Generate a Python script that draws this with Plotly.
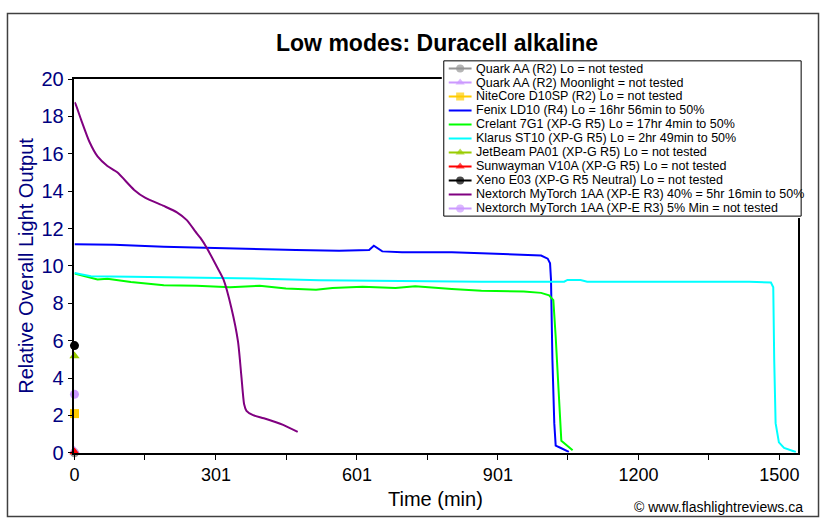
import plotly.graph_objects as go

# ---------------- data ----------------
purple_t = [0, 2, 14, 32, 49, 70, 91, 127, 151, 190, 218, 239, 257, 268, 281, 303, 317, 334,
            348, 355, 361, 366, 380, 403, 444, 475]
purple_v = [18.75, 18.68, 17.83, 16.63, 15.86, 15.35, 15.01, 14.07, 13.64, 13.21, 12.87, 12.45,
            11.85, 11.50, 10.99, 9.96, 9.28, 7.74, 5.95, 4.15, 2.6, 2.25, 2.02, 1.85, 1.5, 1.12]

fenix_t = [0, 84, 190, 281, 387, 471, 563, 627, 637, 648, 655, 697, 803, 866, 936, 993, 1007,
           1012, 1014, 1017, 1021, 1024, 1035, 1052]
fenix_v = [11.16, 11.13, 11.03, 10.96, 10.89, 10.85, 10.82, 10.85, 11.08, 10.91, 10.78, 10.73,
           10.73, 10.68, 10.62, 10.56, 10.39, 10.14, 9.28, 5.01, 1.59, 0.39, 0.26, 0.05]

crelant_t = [0, 21, 49, 70, 120, 190, 260, 331, 394, 450, 514, 549, 613, 683, 725, 803, 866, 956,
             993, 1010, 1019, 1024, 1031, 1036, 1060]
crelant_v = [9.6, 9.45, 9.28, 9.32, 9.14, 8.97, 8.94, 8.86, 8.94, 8.80, 8.73, 8.82, 8.89, 8.82,
             8.91, 8.77, 8.68, 8.63, 8.56, 8.43, 8.17, 6.21, 3.30, 0.65, 0.14]

klarus_t = [0, 35, 120, 260, 401, 521, 683, 803, 866, 1042, 1049, 1077, 1091, 1119, 1281, 1436,
            1482, 1487, 1489, 1492, 1499, 1510, 1535]
klarus_v = [9.62, 9.45, 9.42, 9.37, 9.32, 9.23, 9.20, 9.16, 9.16, 9.16, 9.25, 9.25, 9.16, 9.15,
            9.16, 9.16, 9.11, 8.86, 5.01, 1.59, 0.56, 0.26, 0.05]

# single-point "not tested" series (time, value)
quark_lo = ([0], [0.0])
quark_moon = ([0], [0.12])
nitecore = ([0], [2.1])
jetbeam = ([0], [5.18])
sunwayman = ([0], [0.05])
xeno = ([0], [5.74])
nextorch_min = ([0], [3.13])

x_tick_vals = [0, 150, 301, 451, 601, 751, 901, 1050, 1200, 1350, 1500]
x_tick_text = ["0", "", "301", "", "601", "", "901", "", "1200", "", "1500"]
y_tick_vals = [0, 2, 4, 6, 8, 10, 12, 14, 16, 18, 20]

names = [
    "Quark AA (R2) Lo = not tested",
    "Quark AA (R2) Moonlight = not tested",
    "NiteCore D10SP (R2) Lo = not tested",
    "Fenix LD10 (R4) Lo = 16hr 56min to 50%",
    "Crelant 7G1 (XP-G R5) Lo = 17hr 4min to 50%",
    "Klarus ST10 (XP-G R5) Lo = 2hr 49min to 50%",
    "JetBeam PA01 (XP-G R5) Lo = not tested",
    "Sunwayman V10A (XP-G R5) Lo = not tested",
    "Xeno E03 (XP-G R5 Neutral) Lo = not tested",
    "Nextorch MyTorch 1AA (XP-E R3) 40% = 5hr 16min to 50%",
    "Nextorch MyTorch 1AA (XP-E R3) 5% Min = not tested",
]

# ---------------- styles ----------------
W, H = 822, 530
PL, PR, PT, PB = 70, 799, 71, 461          # plot area in pixels
X_MAX = 1540
FONT = "Arial, Liberation Sans, sans-serif"
NAVY = "#000080"

series = [
    # (name, data, kind, color, symbol)
    (names[0], quark_lo, "m", "#969696", "circle"),
    (names[1], quark_moon, "m", "#CC99FF", "triangle-up"),
    (names[2], nitecore, "m", "#FFCC00", "square"),
    (names[3], (fenix_t, fenix_v), "l", "#0000FF", None),
    (names[4], (crelant_t, crelant_v), "l", "#00FF00", None),
    (names[5], (klarus_t, klarus_v), "l", "#00FFFF", None),
    (names[6], jetbeam, "m", "#99CC00", "triangle-up"),
    (names[7], sunwayman, "m", "#FF0000", "triangle-up"),
    (names[8], xeno, "m", "#000000", "circle"),
    (names[9], (purple_t, purple_v), "s", "#800080", None),
    (names[10], nextorch_min, "m", "#CC99FF", "circle"),
]

fig = go.Figure()

for name, (t, v), kind, color, sym in series:
    if kind in ("l", "s"):
        fig.add_trace(go.Scatter(x=t, y=v, mode="lines", name=name, showlegend=False,
                                 line=dict(color=color, width=2,
                                           shape="spline" if kind == "s" else "linear",
                                           smoothing=0.6)))
for name, (t, v), kind, color, sym in series:
    if kind == "m":
        fig.add_trace(go.Scatter(x=t, y=v, mode="markers", name=name, showlegend=False,
                                 cliponaxis=False,
                                 marker=dict(color=color, symbol=sym, size=9,
                                             line=dict(width=0))))

# ---------------- manual legend (compact rows like the original) ----------------
LG_L, LG_R, LG_T, LG_B = 442, 802, 52, 214
row_y0, row_dy = 60, 14.6
sym_x0, sym_x1, txt_x = 447, 470, 472
annotations = []
for i, (name, data, kind, color, sym) in enumerate(series):
    yc = row_y0 + row_dy * i
    if kind in ("l", "s"):
        fig.add_trace(go.Scatter(x=[sym_x0, sym_x1], y=[yc, yc], mode="lines",
                                 xaxis="x2", yaxis="y2", showlegend=False, hoverinfo="skip",
                                 line=dict(color=color, width=2)))
    else:
        fig.add_trace(go.Scatter(x=[sym_x0, (sym_x0 + sym_x1) / 2, sym_x1], y=[yc, yc, yc],
                                 mode="lines+markers", xaxis="x2", yaxis="y2",
                                 showlegend=False, hoverinfo="skip",
                                 line=dict(color=color, width=2),
                                 marker=dict(color=color, symbol=sym, size=[0, 8, 0],
                                             line=dict(width=0))))
    annotations.append(dict(x=txt_x, y=yc, xref="x2", yref="y2", text=name, showarrow=False,
                            xanchor="left", yanchor="middle",
                            font=dict(family=FONT, size=12.5, color="black")))

shapes = [
    dict(type="rect", xref="paper", yref="paper", x0=2.5 / W, x1=(W - 2.5) / W,
         y0=2.5 / H, y1=(H - 2.5) / H, line=dict(color="#404040", width=1.5), layer="below"),
    dict(type="rect", xref="x2", yref="y2", x0=LG_L, x1=LG_R, y0=LG_T, y1=LG_B,
         fillcolor="white", line=dict(color="black", width=1), layer="below"),
]

annotations += [
    dict(x=435 / W, y=(H - 33) / H, xref="paper", yref="paper", showarrow=False,
         text="<b>Low modes: Duracell alkaline</b>", xanchor="center", yanchor="middle",
         font=dict(family=FONT, size=23, color="black")),
    dict(x=21 / W, y=(H - (PT + PB) / 2) / H, xref="paper", yref="paper", showarrow=False,
         text="Relative Overall Light Output", textangle=-90, xanchor="center",
         yanchor="middle", font=dict(family=FONT, size=20, color=NAVY)),
    dict(x=434 / W, y=(H - 509) / H, xref="paper", yref="paper", showarrow=False,
         text="Time (min)", xanchor="center", yanchor="middle",
         font=dict(family=FONT, size=20, color="black")),
    dict(x=806 / W, y=(H - 517) / H, xref="paper", yref="paper", showarrow=False,
         text="© www.flashlightreviews.ca", xanchor="right", yanchor="middle",
         font=dict(family=FONT, size=14, color="black")),
]

fig.update_layout(
    width=W, height=H,
    margin=dict(l=0, r=0, t=0, b=0, pad=0),
    paper_bgcolor="white", plot_bgcolor="white",
    showlegend=False,
    font=dict(family=FONT, color="black"),
    xaxis=dict(domain=[PL / W, PR / W], range=[0, X_MAX], showgrid=False, zeroline=False,
               showline=True, linecolor="black", linewidth=1.5, mirror=True,
               ticks="outside", ticklen=5, tickcolor="black", tickwidth=1,
               tickmode="array", tickvals=x_tick_vals, ticktext=x_tick_text,
               tickfont=dict(family=FONT, size=18, color="black")),
    yaxis=dict(domain=[(H - PB) / H, (H - PT) / H], range=[0, 20], showgrid=False,
               zeroline=False, showline=True, linecolor="black", linewidth=1.5, mirror=True,
               ticks="outside", ticklen=5, tickcolor="black", tickwidth=1,
               tickmode="array", tickvals=y_tick_vals,
               tickfont=dict(family=FONT, size=20, color=NAVY)),
    xaxis2=dict(domain=[(LG_L - 2) / W, (LG_R + 2) / W], range=[LG_L - 2, LG_R + 2],
                visible=False, fixedrange=True, anchor="y2"),
    yaxis2=dict(domain=[(H - LG_B - 2) / H, (H - LG_T + 2) / H], range=[LG_B + 2, LG_T - 2],
                visible=False, fixedrange=True, anchor="x2"),
    shapes=shapes,
    annotations=annotations,
)

fig.write_html("out.html",
               config={"displayModeBar": False},
               post_script="document.body.style.margin='0';document.body.style.overflow='hidden';")
